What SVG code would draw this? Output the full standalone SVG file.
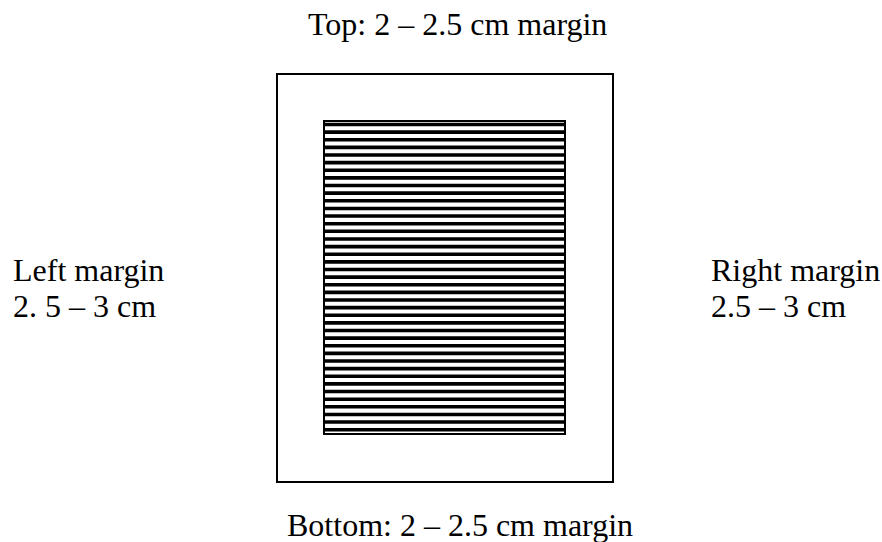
<svg xmlns="http://www.w3.org/2000/svg" width="882" height="542" viewBox="0 0 882 542">
  <style>
    .lbl { font-family: "Liberation Serif", "Times New Roman", serif; font-size: 32px; fill: #000; }
    .frame { fill: none; stroke: #000; stroke-width: 2; }
    .hatch { fill: none; stroke: #000; stroke-width: 3.6; }
  </style>
  <rect width="882" height="542" fill="#fff"/>
  <g id="page">
    <rect class="frame" x="277" y="74" width="336" height="408"/>
  </g>
  <g id="text-area">
    <path class="hatch" d="M324 124.5H565M324 132.13H565M324 139.76H565M324 147.39H565M324 155.02H565M324 162.65H565M324 170.28H565M324 177.91H565M324 185.54H565M324 193.17H565M324 200.8H565M324 208.43H565M324 216.06H565M324 223.69H565M324 231.32H565M324 238.95H565M324 246.58H565M324 254.21H565M324 261.84H565M324 269.47H565M324 277.1H565M324 284.73H565M324 292.36H565M324 299.99H565M324 307.62H565M324 315.25H565M324 322.88H565M324 330.51H565M324 338.14H565M324 345.77H565M324 353.4H565M324 361.03H565M324 368.66H565M324 376.29H565M324 383.92H565M324 391.55H565M324 399.18H565M324 406.81H565M324 414.44H565M324 422.07H565M324 429.7H565"/>
    <rect x="324" y="121" width="241" height="313" fill="none" stroke="#000" stroke-width="2"/>
  </g>
  <g id="labels">
    <text class="lbl" x="308" y="35">Top: 2 – 2.5 cm margin</text>
    <text class="lbl" x="287" y="536">Bottom: 2 – 2.5 cm margin</text>
    <text class="lbl" x="13" y="281">Left margin</text>
    <text class="lbl" x="13" y="317">2. 5 – 3 cm</text>
    <text class="lbl" x="711" y="281">Right margin</text>
    <text class="lbl" x="711" y="317">2.5 – 3 cm</text>
  </g>
</svg>
